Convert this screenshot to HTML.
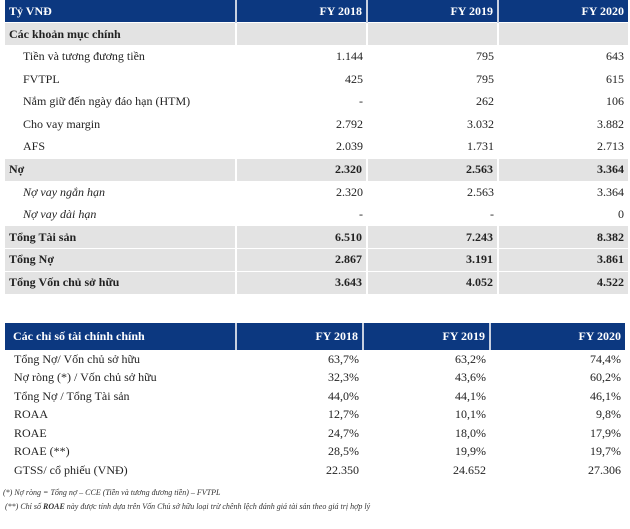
<!DOCTYPE html>
<html><head><meta charset="utf-8"><style>
body{margin:0;width:630px;height:529px;background:#fff;font-family:"Liberation Serif",serif;font-size:12px;color:#222;position:relative;overflow:hidden}
table{position:absolute;border-collapse:collapse;table-layout:fixed}
td{padding:0 4px;white-space:nowrap;overflow:hidden}
td.n{text-align:right}
.h td{background:#0c3880;color:#fff;font-weight:bold;border-right:2px solid #c8d0e0}
.h td:last-child{border-right:none}
.g td{background:#e3e3e3;border-right:2px solid #fff;border-top:1px solid #fff}
.g td:last-child{border-right:none}
.b td{font-weight:bold}
.i td:first-child{font-style:italic}
.p{padding-left:18px}
#t1{left:5px;top:0;width:623px}
#t1 tr{height:22.6px}
#t2{left:5px;top:323px;width:620px}
#t2 tr{height:18.5px}
#t2 tr.h{height:27px}
.fn{position:absolute;left:3px;font-size:8px;font-style:italic;color:#333}
</style></head><body>
<table id="t1">
<col style="width:231px"><col style="width:131px"><col style="width:131px"><col style="width:130px">
<tr class="h"><td>Tỷ VNĐ</td><td class="n">FY 2018</td><td class="n">FY 2019</td><td class="n">FY 2020</td></tr>
<tr class="g b"><td>Các khoản mục chính</td><td></td><td></td><td></td></tr>
<tr><td class="p">Tiền và tương đương tiền</td><td class="n">1.144</td><td class="n">795</td><td class="n">643</td></tr>
<tr><td class="p">FVTPL</td><td class="n">425</td><td class="n">795</td><td class="n">615</td></tr>
<tr><td class="p">Nắm giữ đến ngày đáo hạn (HTM)</td><td class="n">-</td><td class="n">262</td><td class="n">106</td></tr>
<tr><td class="p">Cho vay margin</td><td class="n">2.792</td><td class="n">3.032</td><td class="n">3.882</td></tr>
<tr><td class="p">AFS</td><td class="n">2.039</td><td class="n">1.731</td><td class="n">2.713</td></tr>
<tr class="g b"><td>Nợ</td><td class="n">2.320</td><td class="n">2.563</td><td class="n">3.364</td></tr>
<tr class="i"><td class="p">Nợ vay ngắn hạn</td><td class="n">2.320</td><td class="n">2.563</td><td class="n">3.364</td></tr>
<tr class="i"><td class="p">Nợ vay dài hạn</td><td class="n">-</td><td class="n">-</td><td class="n">0</td></tr>
<tr class="g b"><td>Tổng Tài sản</td><td class="n">6.510</td><td class="n">7.243</td><td class="n">8.382</td></tr>
<tr class="g b"><td>Tổng Nợ</td><td class="n">2.867</td><td class="n">3.191</td><td class="n">3.861</td></tr>
<tr class="g b"><td>Tổng Vốn chủ sở hữu</td><td class="n">3.643</td><td class="n">4.052</td><td class="n">4.522</td></tr>
</table>
<table id="t2">
<col style="width:231px"><col style="width:127px"><col style="width:127px"><col style="width:135px">
<tr class="h"><td style="padding-left:8px">Các chỉ số tài chính chính</td><td class="n">FY 2018</td><td class="n">FY 2019</td><td class="n">FY 2020</td></tr>
<tr><td style="padding-left:9px">Tổng Nợ/ Vốn chủ sở hữu</td><td class="n">63,7%</td><td class="n">63,2%</td><td class="n">74,4%</td></tr>
<tr><td style="padding-left:9px">Nợ ròng (*) / Vốn chủ sở hữu</td><td class="n">32,3%</td><td class="n">43,6%</td><td class="n">60,2%</td></tr>
<tr><td style="padding-left:9px">Tổng Nợ / Tổng Tài sản</td><td class="n">44,0%</td><td class="n">44,1%</td><td class="n">46,1%</td></tr>
<tr><td style="padding-left:9px">ROAA</td><td class="n">12,7%</td><td class="n">10,1%</td><td class="n">9,8%</td></tr>
<tr><td style="padding-left:9px">ROAE</td><td class="n">24,7%</td><td class="n">18,0%</td><td class="n">17,9%</td></tr>
<tr><td style="padding-left:9px">ROAE (**)</td><td class="n">28,5%</td><td class="n">19,9%</td><td class="n">19,7%</td></tr>
<tr><td style="padding-left:9px">GTSS/ cổ phiếu (VNĐ)</td><td class="n">22.350</td><td class="n">24.652</td><td class="n">27.306</td></tr>
</table>
<div class="fn" style="top:488px">(*) Nợ ròng = Tổng nợ – CCE (Tiền và tương đương tiền) – FVTPL</div>
<div class="fn" style="top:502px">&nbsp;(**) Chỉ số <b>ROAE</b> này được tính dựa trên Vốn Chủ sở hữu loại trừ chênh lệch đánh giá tài sản theo giá trị hợp lý</div>
</body></html>
